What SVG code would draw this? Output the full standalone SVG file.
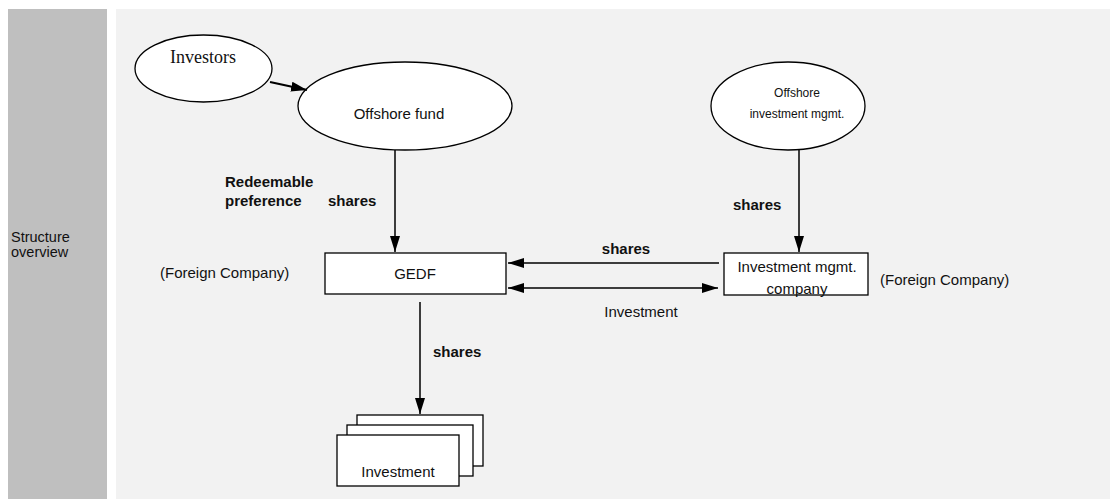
<svg xmlns="http://www.w3.org/2000/svg" width="1110" height="499" viewBox="0 0 1110 499">
<style>
text{font-family:"Liberation Sans",Arial,sans-serif;font-size:15px;fill:#111}
.b{font-weight:bold}
.s{font-size:12px}
.shape{fill:#fff;stroke:#000;stroke-width:1.3}
.ln{stroke:#000;stroke-width:1.5;fill:none}
</style>
<defs>
<marker id="ah" viewBox="0 0 16 10" refX="16" refY="5" markerWidth="16" markerHeight="10" markerUnits="userSpaceOnUse" orient="auto-start-reverse">
<path d="M0,0 L16,5 L0,10 Z" fill="#000"/>
</marker>
</defs>
<rect x="8" y="9" width="99" height="490" fill="#BFBFBF"/>
<rect x="116" y="9" width="994" height="490" fill="#F2F2F2"/>
<text x="11" y="242" style="font-size:14.5px">Structure</text>
<text x="11" y="257" style="font-size:14.5px">overview</text>

<g id="investors">
<ellipse class="shape" cx="203.5" cy="68.5" rx="68.5" ry="33.5"/>
<text x="203" y="63" text-anchor="middle" style="font-family:'Liberation Serif','Times New Roman',serif;font-size:18px">Investors</text>
</g>
<g id="offshore-fund">
<ellipse class="shape" cx="405" cy="106" rx="107" ry="44"/>
<text x="399" y="119" text-anchor="middle">Offshore fund</text>
</g>
<g id="offshore-mgmt">
<ellipse class="shape" cx="788" cy="106" rx="77" ry="44"/>
<text class="s" x="797" y="97" text-anchor="middle">Offshore</text>
<text class="s" x="797" y="118" text-anchor="middle">investment mgmt.</text>
</g>
<g id="gedf">
<rect class="shape" x="325" y="253" width="181" height="41"/>
<text x="415" y="279" text-anchor="middle">GEDF</text>
<text x="160" y="278">(Foreign Company)</text>
</g>
<g id="mgmt-company">
<rect class="shape" x="724" y="253" width="144" height="42"/>
<text x="797" y="272" text-anchor="middle">Investment mgmt.</text>
<text x="797" y="294" text-anchor="middle">company</text>
<text x="880" y="285">(Foreign Company)</text>
</g>
<g id="investments">
<rect class="shape" x="357" y="415" width="126" height="51"/>
<rect class="shape" x="347" y="425" width="126" height="51"/>
<rect class="shape" x="337" y="435" width="122" height="51"/>
<text x="398" y="477" text-anchor="middle">Investment</text>
</g>
<g id="connectors">
<line x1="270" y1="82" x2="307" y2="90" stroke="#000" stroke-width="2.2" marker-end="url(#ah)"/>
<line class="ln" x1="395" y1="150" x2="395" y2="252" marker-end="url(#ah)"/>
<line class="ln" x1="799" y1="150" x2="799" y2="252" marker-end="url(#ah)"/>
<line class="ln" x1="719" y1="263" x2="508" y2="263" marker-end="url(#ah)"/>
<line class="ln" x1="508" y1="288" x2="718" y2="288" marker-start="url(#ah)" marker-end="url(#ah)"/>
<line class="ln" x1="420" y1="302" x2="420" y2="414" marker-end="url(#ah)"/>
<text class="b" x="225" y="187">Redeemable</text>
<text class="b" x="225" y="206">preference</text>
<text class="b" x="328" y="206">shares</text>
<text class="b" x="733" y="210">shares</text>
<text class="b" x="626" y="254" text-anchor="middle">shares</text>
<text x="641" y="317" text-anchor="middle">Investment</text>
<text class="b" x="433" y="357">shares</text>
</g>
</svg>
